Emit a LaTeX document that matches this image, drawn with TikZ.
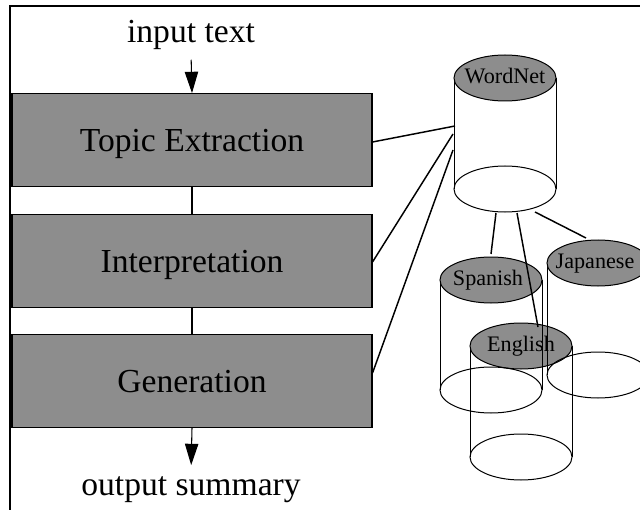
\documentclass[tikz,border=0pt]{standalone}
\usepackage{fontspec}
\setmainfont{Liberation Serif}
\usetikzlibrary{arrows.meta,calc}
\definecolor{boxgray}{RGB}{141,141,141}
\tikzset{
  stagebox/.style={draw=black, line width=0.8pt, fill=boxgray, rectangle,
    minimum width=270pt, minimum height=69.5pt, inner sep=0pt,
    font=\fontsize{25.2}{30}\selectfont, text height=16.7pt, text depth=0pt},
  iotext/.style={inner sep=2pt, font=\fontsize{25.2}{30}\selectfont},
  dblabel/.style={inner sep=0pt, font=\fontsize{16.6}{20}\selectfont,
    text height=11pt, text depth=0pt},
  cylline/.style={draw=black, line width=0.75pt},
  link/.style={draw=black, line width=1.1pt},
  flowarrow/.style={draw=black, line width=0.8pt,
    -{Triangle[length=16pt, width=10pt]}},
}
\newcommand\dbcyl[6]{%
  \draw[cylline] (#2-51,#3) -- (#2-51,#4) (#2+51,#3) -- (#2+51,#4);
  \draw[cylline] (#2,#4) ellipse[x radius=38.25pt, y radius=17.25pt];
  \draw[cylline, fill=boxgray] (#2,#3) ellipse[x radius=38.25pt, y radius=17.25pt];
  \node[dblabel] (#1) at (#2+#6,#3-2) {#5};
}
\begin{document}
\begin{tikzpicture}[x=0.75pt, y=-0.75pt]
\useasboundingbox (0,0) rectangle (640,510);
\clip (0,0) rectangle (640,510);
% frame
\draw[line width=1.6pt] (641,6) -- (10,6) -- (10,511);

% stages
\node[stagebox] (topic) at (192,140) {Topic Extraction};
\node[stagebox] (interp) at (192,261) {Interpretation};
\node[stagebox] (gen) at (192,381) {Generation};
\node[iotext, anchor=base] (intext) at (191,43) {input text};
\node[iotext, anchor=base] (outtext) at (191,495) {output summary};

\draw[flowarrow, shorten <=5pt] (intext.south) -- (topic.north);
\draw[flowarrow, shorten >=6pt] (gen.south) -- (outtext.north);
\draw[line width=0.8pt] (topic.south) -- (interp.north);
\draw[line width=0.8pt] (interp.south) -- (gen.north);

% databases
\dbcyl{wordnet}{505}{78}{189}{WordNet}{0}
\dbcyl{english}{521}{346}{457}{English}{0}
\dbcyl{spanish}{491}{280}{390}{Spanish}{-3}
\dbcyl{japanese}{598}{263}{375}{Japanese}{-3}

% connection points
\coordinate (wnA) at (455,126);
\coordinate (wnB) at (453,134);
\coordinate (wnC) at (453,150);
\coordinate (wnD) at (496,213);
\coordinate (wnE) at (517,213);
\coordinate (wnF) at (535,212);
\coordinate (spT) at (491,254);
\coordinate (enT) at (538,327);
\coordinate (jpT) at (586,238);

\draw[link] (topic.east) ++(0,2) coordinate (topicR) (topicR) -- (wnA);
\draw[link] (interp.east) ++(0,1) coordinate (interpR) (interpR) -- (wnB);
\draw[link] (gen.east) ++(0,-8) coordinate (genR) (genR) -- (wnC);
\draw[link] (wnD) -- (spT);
\draw[link] (wnE) -- (enT);
\draw[link] (wnF) -- (jpT);
\end{tikzpicture}
\end{document}
